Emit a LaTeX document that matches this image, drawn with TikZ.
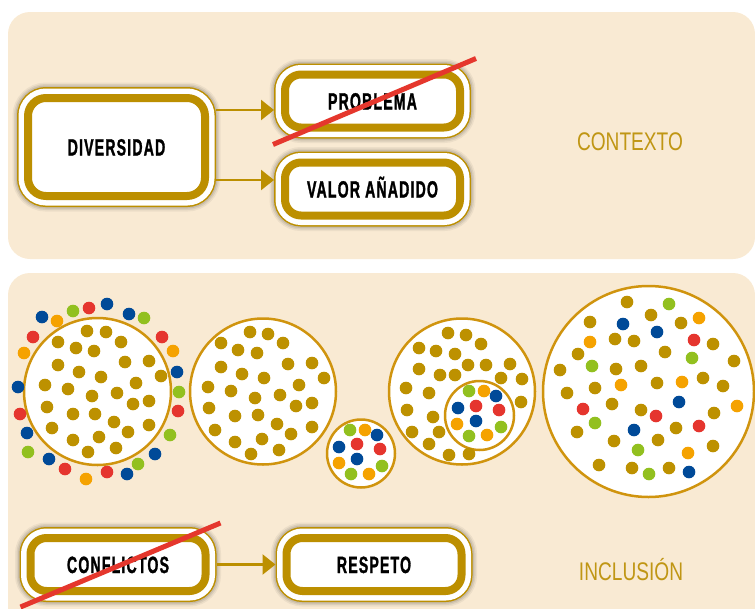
\documentclass[tikz,border=0pt]{standalone}
\usepackage{fontspec}
\usetikzlibrary{arrows.meta, positioning}

\newfontfamily\boxfont[FakeStretch=0.6, LetterSpace=5, BoldFeatures={FakeBold=1.2}]{Liberation Sans}
\newfontfamily\sidefont[FakeStretch=0.75]{Liberation Sans}

\definecolor{panelbg}{RGB}{249,234,211}
\definecolor{boxgold}{RGB}{188,143,0}
\definecolor{ringgold}{RGB}{208,148,14}
\definecolor{dotgold}{RGB}{189,145,0}
\definecolor{dotblue}{RGB}{0,74,152}
\definecolor{dotred}{RGB}{229,53,46}
\definecolor{dotgreen}{RGB}{146,192,31}
\definecolor{dotorange}{RGB}{245,162,0}
\definecolor{strikered}{RGB}{229,55,45}
\definecolor{labelgold}{RGB}{192,150,20}

\begin{document}
\begin{tikzpicture}[
  x=1pt, y=-1pt,
  panel/.style = {fill=panelbg, rounded corners=22pt},
  boxframe/.style = {draw=boxgold, line width=8pt, fill=white, rounded corners=16pt,
    minimum width=175pt, minimum height=53pt, outer sep=11pt,
    text height=17pt, text depth=0pt, align=center,
    font=\boxfont\bfseries\fontsize{23.5}{24}\selectfont,
    preaction={draw=black, draw opacity=0.05, line width=31pt},
    preaction={draw=black, draw opacity=0.07, line width=28pt},
    preaction={draw=black, draw opacity=0.09, line width=25pt},
    preaction={draw=boxgold, line width=22pt},
    preaction={draw=white, line width=19pt}},
  bigframe/.style = {boxframe, minimum width=177pt, minimum height=98pt, rounded corners=18pt},
  arrow/.style = {draw=boxgold, line width=2.5pt, -{Triangle[length=13pt, width=20pt]}},
  strikeout/.style = {draw=strikered, line width=5pt},
  sidelabel/.style = {text=labelgold, inner sep=0pt, anchor=base,
    font=\sidefont\fontsize{25.5}{26}\selectfont},
  ring/.style = {draw=ringgold, line width=2.5pt, fill=white}
]
\useasboundingbox (0,0) rectangle (755,608);

% ======================================================
% Panels
% ======================================================
\fill[panel] (8,12) rectangle (755,259);
\fill[panel] (8,273) rectangle (755,650);

% ======================================================
% Contexto: diversidad -> problema / valor
% ======================================================
\node[bigframe] (div) at (116.5,147) {DIVERSIDAD};
\node[boxframe, right=58pt of div, yshift=46pt] (prob) {PROBLEMA};
\node[boxframe, right=58pt of div, yshift=-42pt] (valor) {VALOR AÑADIDO};

\coordinate (divup) at ([yshift=37pt]div.east);
\coordinate (divdown) at ([yshift=-33pt]div.east);
\draw[arrow] (divup) -- (divup -| prob.west);
\draw[arrow] (divdown) -- (divdown -| valor.west);

% problema is crossed out
\draw[strikeout] ([shift={(-1pt,-6pt)}]prob.south west) -- ([shift={(5pt,5pt)}]prob.north east);

\node[sidelabel] (ctx) at (630,150) {CONTEXTO};

% ======================================================
% Inclusion: groups of dots
% ======================================================
\draw[ring] (97.5,391.5) circle (73.5);
\draw[ring] (263,391.5) circle (73);
\draw[ring] (361,453.5) circle (34);
\draw[ring] (462,391.5) circle (73);
\draw[ring] (479.5,415.5) circle (34.5);
\draw[ring] (648.5,391.5) circle (105.5);

% gold dots
\foreach \x/\y in {87/331,106/332,58/342,121/342,76/348,94/351,58/365,125/362,149/361,79/372,
  101/377,161/376,45/385,68/389,136/383,92/396,117/393,47/407,133/404,149/401,73/414,95/414,
  114/422,52/428,149/425,128/432,73/440,99/437,88/452,116/448,
  250/332,268/334,221/343,283/343,238/350,257/353,221/367,288/364,312/363,242/374,264/378,
  324/378,208/387,231/391,299/385,255/398,280/395,209/408,296/406,312/403,235/416,258/415,
  277/424,215/430,312/427,291/434,235/442,262/439,251/454,279/450,
  448/333,466/335,419/348,481/344,436/351,455/354,419/369,468/365,486/365,510/364,440/375,
  455/375,501/378,522/379,406/388,429/393,521/402,407/410,433/417,412/432,439/432,429/444,
  449/455,469/454,
  627/302,590/322,651/315,681/323,615/339,634/341,578/354,665/352,713/344,734/361,560/370,
  616/369,641/366,567/393,595/388,657/383,703/378,723/386,612/404,641/410,714/413,577/432,
  676/428,614/441,658/440,713/446,599/465,632/468,669/468}
  \fill[dotgold] (\x,\y) circle (6.3);

% blue dots
\foreach \x/\y in {42/317,107/304,129/314,177/372,18/387,27/433,155/454,49/459,127/474,
  377/435,339/447,357/459,496/396,458/408,476/421,
  623/324,657/332,679/402,634/430,689/472}
  \fill[dotblue] (\x,\y) circle (6.3);

% green dots
\foreach \x/\y in {73/311,144/318,179/392,170/435,28/452,138/464,
  350/430,382/466,351/474,469/391,501/427,469/436,
  669/304,692/358,592/366,595/423,638/450,649/474}
  \fill[dotgreen] (\x,\y) circle (6.3);

% red dots
\foreach \x/\y in {89/308,33/337,162/337,20/414,178/411,65/469,107/472,
  357/444,380/449,476/406,499/410,
  694/340,583/409,656/416,699/426}
  \fill[dotred] (\x,\y) circle (6.3);

% orange dots
\foreach \x/\y in {57/321,24/353,173/351,86/479,
  365/430,339/463,369/474,484/391,457/424,487/435,
  699/318,590/342,621/385,682/382,737/406,688/453}
  \fill[dotorange] (\x,\y) circle (6.3);

% ======================================================
% Inclusion: conflictos -> respeto
% ======================================================
\node[boxframe] (confl) at (118,564.5) {CONFLICTOS};
\node[boxframe, right=59pt of confl] (resp) {RESPETO};
\draw[arrow] (confl.east) -- (resp.west);

% conflictos is crossed out
\draw[strikeout] ([shift={(1pt,-5pt)}]confl.south west) -- ([shift={(4pt,4pt)}]confl.north east);

\node[sidelabel] (incl) at (631,580) {INCLUSIÓN};
\end{tikzpicture}
\end{document}
